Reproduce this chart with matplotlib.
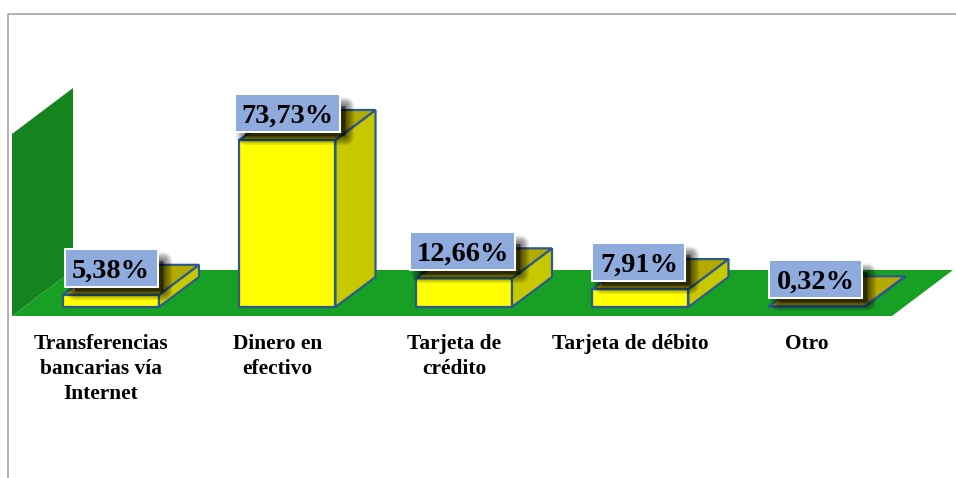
#!/usr/bin/env python3
import matplotlib
matplotlib.use("Agg")
import matplotlib.pyplot as plt
from matplotlib.patches import Polygon, Rectangle

categories = [
    "Transferencias\nbancarias vía\nInternet",
    "Dinero en\nefectivo",
    "Tarjeta de\ncrédito",
    "Tarjeta de débito",
    "Otro",
]
values = [5.38, 73.73, 12.66, 7.91, 0.32]
value_labels = ["5,38%", "73,73%", "12,66%", "7,91%", "0,32%"]

W, H = 956, 478
FLOOR_Y = 307       # pixel row of value 0
PX_PER_UNIT = 2.265
PX_PER_CAT = 176.5
FIRST_CAT = 111
# everything below is in pixels, converted to data with these
BAR_W = 96 / PX_PER_CAT
DX = 40 / PX_PER_CAT
DY = 30 / PX_PER_UNIT

YELLOW = "#ffff00"
SIDE = "#c8c800"
TOP = "#b5aa00"
EDGE = "#2a5b8c"
BOX = "#8faadc"

plt.rcParams["font.family"] = ["Liberation Serif", "DejaVu Serif"]
fig = plt.figure(figsize=(W / 100, H / 100), dpi=100, facecolor="white")

# background layer: frame, wall and floor
bg = fig.add_axes([0, 0, 1, 1])
bg.set_xlim(0, W)
bg.set_ylim(H, 0)
bg.axis("off")
bg.plot([8.5, 8.5, W], [H, 13.5, 13.5], color="#a6a6a6", lw=1.2)
bg.add_patch(Polygon([(12, 316), (892, 316), (953, 270), (73, 270)], fc="#18a025", ec="none"))
bg.add_patch(Polygon([(12, 134), (73, 88), (73, 270), (12, 316)], fc="#15841f", ec="none"))

# chart layer: x is category index, y is the value
ax = fig.add_axes([0, 0, 1, 1])
ax.patch.set_alpha(0)
ax.set_xlim(-FIRST_CAT / PX_PER_CAT, (W - FIRST_CAT) / PX_PER_CAT)
ax.set_ylim((FLOOR_Y - H) / PX_PER_UNIT, FLOOR_Y / PX_PER_UNIT)
ax.axis("off")

px_x = 1 / PX_PER_CAT
px_y = 1 / PX_PER_UNIT

for i, (v, cat, lab) in enumerate(zip(values, categories, value_labels)):
    x0 = i - BAR_W / 2
    x1 = i + BAR_W / 2

    # 3D box: front, side and top faces
    ax.add_patch(Rectangle((x0, 0), BAR_W, v, fc=YELLOW, ec=EDGE, lw=1.6, zorder=3))
    ax.add_patch(Polygon([(x1, 0), (x1 + DX, DY), (x1 + DX, v + DY), (x1, v)],
                         fc=SIDE, ec=EDGE, lw=1.6, zorder=3))
    ax.add_patch(Polygon([(x0, v), (x1, v), (x1 + DX, v + DY), (x0 + DX, v + DY)],
                         fc=TOP, ec=EDGE, lw=1.6, zorder=3))

    # value box sits 8 px above the front top edge
    box_w = (105 if len(lab) > 5 else 93) * px_x
    box_h = 38 * px_y
    bx = i - box_w / 2 + (0 if i in (0, 1) else -1.5 * px_x)
    by = v + 8 * px_y

    # soft shadow, pushed right and down so it only shows on those sides
    for lw in range(13, 0, -1):
        ax.add_patch(Rectangle((bx + 10 * px_x, by - 4 * px_y), box_w - 5 * px_x, box_h - 8 * px_y,
                               fc="black", ec="black", lw=lw, alpha=0.05,
                               joinstyle="round", zorder=4))

    ax.add_patch(Rectangle((bx, by), box_w, box_h, fc=BOX, ec="white", lw=1.4, zorder=5))
    ax.text(bx + box_w / 2, by + box_h / 2 - 3 * px_y, lab, ha="center", va="center",
            fontsize=20.4, fontweight="bold", color="black", zorder=6)

    ax.text(i - 10 * px_x, -27 * px_y, cat, ha="center", va="top", fontsize=15.4,
            fontweight="bold", color="black", linespacing=1.32, zorder=6)

fig.savefig("out.png", dpi=100)
